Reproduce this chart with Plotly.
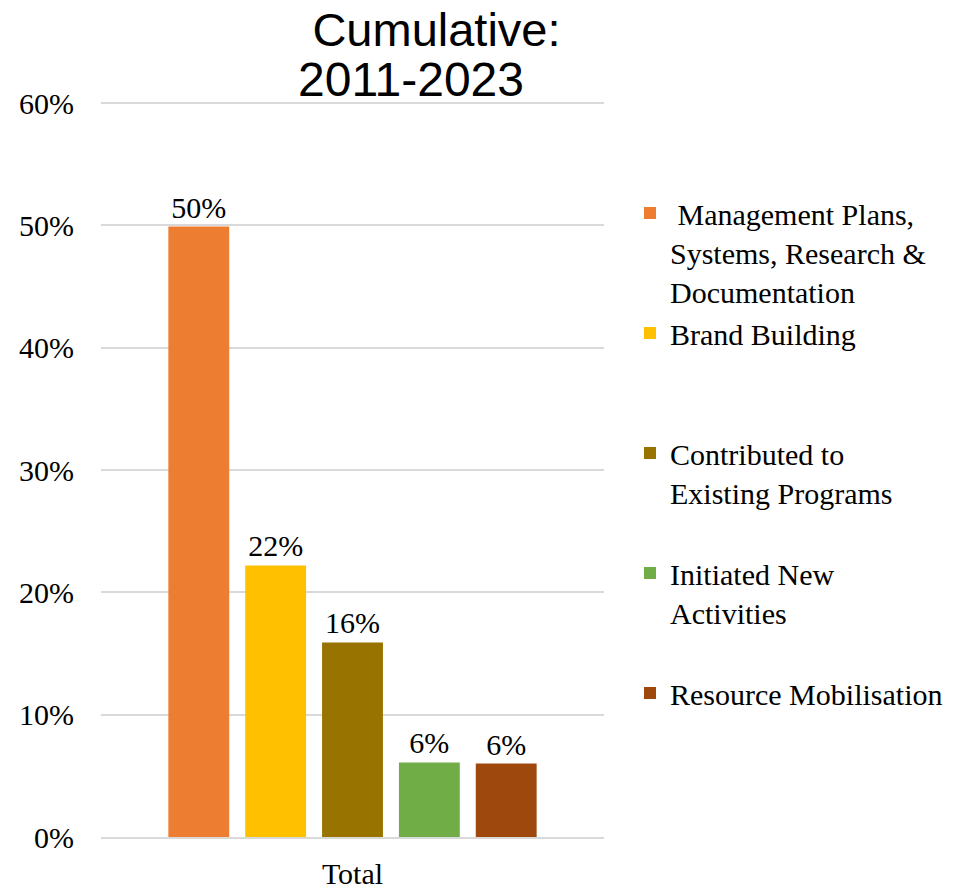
import plotly.graph_objects as go

categories = ["Total"]
series_names = [
    "&nbsp;Management Plans,<br>Systems, Research &<br>Documentation",
    "Brand Building<br>&nbsp;<br>&nbsp;",
    "Contributed to<br>Existing Programs<br>&nbsp;",
    "Initiated New<br>Activities<br>&nbsp;",
    "Resource Mobilisation<br>&nbsp;<br>&nbsp;",
]
series_values = [0.499, 0.222, 0.159, 0.061, 0.060]
series_colors = ["#ED7D31", "#FFC000", "#997300", "#70AD47", "#9E480E"]
y_ticks = [0, 0.1, 0.2, 0.3, 0.4, 0.5, 0.6]

SERIF = "Liberation Serif, Times New Roman, serif"
SANS = "Liberation Sans, Arial, sans-serif"

# page body adds an 8px offset; figure is laid out in its own pixel space
W, H = 956, 881
PL, PR, PT, PB = 93, 596, 89, 829
PW, PH = PR - PL, PB - PT
y_top = 0.6 * PH / (PB - 95)

fig = go.Figure()
for name, val, col in zip(series_names, series_values, series_colors):
    fig.add_trace(go.Bar(
        x=categories, y=[val], name=name,
        marker=dict(color=col, line=dict(width=0)),
        text=[f"{val:.0%}"], textposition="outside",
        textfont=dict(family=SERIF, size=30, color="black"),
        constraintext="none", cliponaxis=False,
    ))

fig.update_layout(
    width=W, height=H,
    margin=dict(l=PL, r=W - PR, t=PT, b=H - PB, autoexpand=False),
    paper_bgcolor="white", plot_bgcolor="white",
    barmode="group", bargap=0.236, bargroupgap=0.208,
    font=dict(family=SERIF, size=30, color="black"),
    title=dict(text="Cumulative:", font=dict(family=SANS, size=47, color="black"),
               x=428.5 / W, xref="container", xanchor="center",
               y=1 - 22 / H, yref="container", yanchor="middle"),
    showlegend=True,
    legend=dict(x=(622 - PL) / PW, xanchor="left", y=(PB - 179) / PH, yanchor="top",
                valign="top", traceorder="normal",
                font=dict(family=SERIF, size=30, color="black"),
                bgcolor="rgba(0,0,0,0)", tracegroupgap=0),
    annotations=[dict(text="2011-2023", xref="paper", yref="paper",
                      x=(403 - PL) / PW, y=(PB - 72) / PH, xanchor="center", yanchor="middle",
                      showarrow=False, font=dict(family=SANS, size=48, color="black"))],
)
fig.update_yaxes(range=[0, y_top], tickvals=y_ticks, tickformat=".0%",
                 showgrid=True, gridcolor="#D9D9D9", gridwidth=1.5,
                 zeroline=False, showline=False, ticks="", ticklabelstandoff=26,
                 automargin=False,
                 tickfont=dict(family=SERIF, size=30, color="black"))
fig.update_xaxes(type="category", showline=True, linecolor="#D9D9D9", linewidth=1.5,
                 ticks="", ticklabelstandoff=9, automargin=False,
                 tickfont=dict(family=SERIF, size=30, color="black"))

fig.write_html("out.html")
